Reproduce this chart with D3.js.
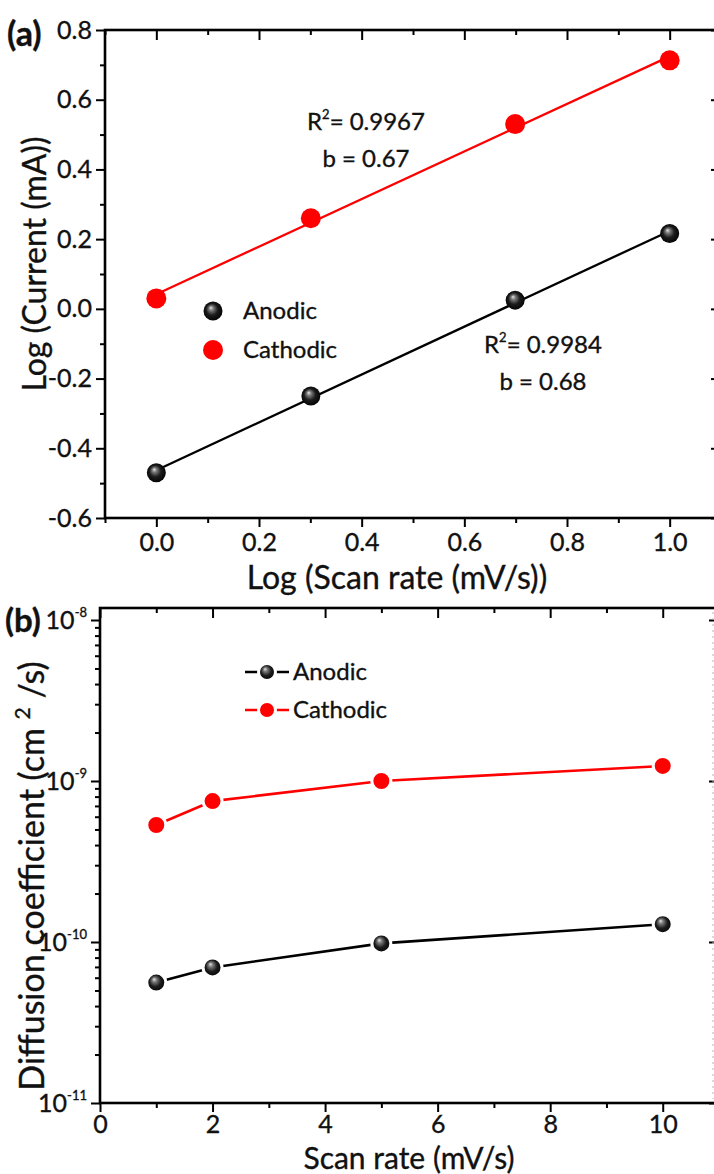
<!DOCTYPE html>
<html>
<head>
<meta charset="utf-8">
<script src="https://cdn.jsdelivr.net/npm/d3@7"></script>
<style>
  html, body { margin: 0; padding: 0; background: #fff; }
  svg { display: block; font-family: Lato, "Open Sans", sans-serif; }
  svg text { stroke: #111; stroke-width: 0.35px; }
</style>
</head>
<body>
<svg id="chart" width="714" height="1174"></svg>
<script>
// ---- (a) log(peak current) vs log(scan rate) ----
const logRate = [0, 0.301, 0.699, 1.0];
const logAnodic = [-0.47, -0.25, 0.025, 0.216];
const logCathodic = [0.03, 0.26, 0.53, 0.713];
const fitLabelsAnodic = ["0.9984", "0.68"];
const fitLabelsCathodic = ["0.9967", "0.67"];
const aYTicks = [-0.6, -0.4, -0.2, 0.0, 0.2, 0.4, 0.6, 0.8];
const aYMinor = [-0.5, -0.3, -0.1, 0.1, 0.3, 0.5, 0.7];
const aXTicks = [0.0, 0.2, 0.4, 0.6, 0.8, 1.0];
const aXMinor = [-0.1, 0.1, 0.3, 0.5, 0.7, 0.9, 1.1];

// ---- (b) diffusion coefficient vs scan rate ----
const scanRate = [1, 2, 5, 10];
const diffAnodic = [5.6e-11, 6.95e-11, 9.8e-11, 1.29e-10];
const diffCathodic = [5.33e-10, 7.5e-10, 1.0e-9, 1.24e-9];
const bXTicks = [0, 2, 4, 6, 8, 10];
const bXMinor = [1, 3, 5, 7, 9, 11];
const bYExponents = [-11, -10, -9, -8];

const seriesNames = ["Anodic", "Cathodic"];
const seriesColors = ["#000000", "#ff0000"];

const INK = "#111";
const TICK_FONT = 25;
const svg = d3.select("#chart");

// shaded sphere used for the anodic markers
const defs = svg.append("defs");
const grad = defs.append("radialGradient").attr("id", "ball")
  .attr("cx", "50%").attr("cy", "50%").attr("r", "55%")
  .attr("fx", "38%").attr("fy", "32%");
grad.append("stop").attr("offset", "0%").attr("stop-color", "#e6e6e6");
grad.append("stop").attr("offset", "22%").attr("stop-color", "#7a7a7a");
grad.append("stop").attr("offset", "55%").attr("stop-color", "#1c1c1c");
grad.append("stop").attr("offset", "100%").attr("stop-color", "#000");

const FRAME_W = 2.6, TICK_W = 2;

function styleAxis(g) {
  g.select(".domain").remove();
  g.selectAll(".tick line").attr("stroke", "#000").attr("stroke-width", TICK_W);
  g.attr("font-family", null).attr("font-size", null);
  g.selectAll("text").attr("fill", INK).style("font-size", TICK_FONT + "px");
}

function frame(x0, x1, y0, y1) {
  svg.append("rect").attr("x", x0).attr("y", y0)
    .attr("width", x1 - x0).attr("height", y1 - y0)
    .attr("fill", "none").attr("stroke", "#000").attr("stroke-width", FRAME_W);
}

function marker(g, cx, cy, i, r, gap) {
  const c = g.append("circle").attr("cx", cx).attr("cy", cy).attr("r", r)
    .attr("fill", i === 0 ? "url(#ball)" : seriesColors[1]);
  if (gap) c.attr("stroke", "#fff").attr("stroke-width", gap);
  return c;
}

// ================= Panel (a) =================
const A = { l: 105, r: 721, t: 30, b: 518 };
const ax = d3.scaleLinear().domain([-0.1, 1.1]).range([A.l, A.r]);
const ay = d3.scaleLinear().domain([-0.6, 0.8]).range([A.b, A.t]);
const fmt1 = d => d.toFixed(1);

svg.append("g").attr("transform", `translate(${A.l},0)`)
  .call(d3.axisLeft(ay).tickValues(aYTicks).tickSize(9).tickPadding(4).tickFormat(fmt1))
  .call(styleAxis);
svg.append("g").attr("transform", `translate(${A.l},0)`)
  .call(d3.axisLeft(ay).tickValues(aYMinor).tickSize(5).tickFormat(""))
  .call(styleAxis);
svg.append("g").attr("transform", `translate(0,${A.b})`)
  .call(d3.axisBottom(ax).tickValues(aXTicks).tickSize(9).tickPadding(6).tickFormat(fmt1))
  .call(styleAxis);
svg.append("g").attr("transform", `translate(0,${A.b})`)
  .call(d3.axisBottom(ax).tickValues(aXMinor).tickSize(5).tickFormat(""))
  .call(styleAxis);
svg.append("g").attr("transform", `translate(0,${A.t})`)
  .call(d3.axisTop(ax).tickValues(aXTicks).tickSize(-10).tickFormat(""))
  .call(styleAxis);
svg.append("g").attr("transform", `translate(0,${A.t})`)
  .call(d3.axisTop(ax).tickValues(aXMinor).tickSize(-5).tickFormat(""))
  .call(styleAxis);
svg.append("g").attr("transform", `translate(${A.r},0)`)
  .call(d3.axisRight(ay).tickValues(aYTicks).tickSize(-10).tickFormat(""))
  .call(styleAxis);
svg.append("g").attr("transform", `translate(${A.r},0)`)
  .call(d3.axisRight(ay).tickValues(aYMinor).tickSize(-5).tickFormat(""))
  .call(styleAxis);
frame(A.l, A.r, A.t, A.b);

// least-squares lines through each series
function linFit(xs, ys) {
  const mx = d3.mean(xs), my = d3.mean(ys);
  const sxy = d3.sum(xs, (x, i) => (x - mx) * (ys[i] - my));
  const sxx = d3.sum(xs, x => (x - mx) ** 2);
  const k = sxy / sxx;
  return x => my + k * (x - mx);
}
const aSeries = [logAnodic, logCathodic];
const aPlot = svg.append("g");
aSeries.forEach((ys, i) => {
  const f = linFit(logRate, ys);
  const x0 = d3.min(logRate), x1 = d3.max(logRate);
  aPlot.append("line")
    .attr("x1", ax(x0)).attr("y1", ay(f(x0)))
    .attr("x2", ax(x1)).attr("y2", ay(f(x1)))
    .attr("stroke", seriesColors[i]).attr("stroke-width", 2.3);
});
aSeries.forEach((ys, i) => {
  logRate.forEach((x, j) => marker(aPlot, ax(x), ay(ys[j]), i, i === 0 ? 9.5 : 10));
});

// fit annotations
function fitNote(cx, yBase, labels) {
  const t1 = svg.append("text").attr("x", cx).attr("y", yBase)
    .attr("text-anchor", "middle").attr("font-size", 24).attr("fill", INK);
  t1.append("tspan").text("R");
  t1.append("tspan").attr("dy", -11).attr("font-size", 13).text("2");
  t1.append("tspan").attr("dy", 11).text("= " + labels[0]);
  svg.append("text").attr("x", cx).attr("y", yBase + 37)
    .attr("text-anchor", "middle").attr("font-size", 24).attr("fill", INK)
    .text("b = " + labels[1]);
}
fitNote(366, 130, fitLabelsCathodic);
fitNote(543, 353, fitLabelsAnodic);

// legend (a)
seriesNames.forEach((name, i) => {
  const y = 311 + i * 39;
  marker(svg, 213, y, i, i === 0 ? 9.5 : 10);
  svg.append("text").attr("x", 243).attr("y", y).attr("dy", "0.35em")
    .attr("font-size", 24).attr("fill", INK).text(name);
});

// axis titles (a)
svg.append("text").attr("transform", "translate(46,264) rotate(-90)")
  .attr("text-anchor", "middle").attr("font-size", 32).attr("fill", INK)
  .text("Log (Current (mA))");
svg.append("text").attr("x", 397).attr("y", 589)
  .attr("text-anchor", "middle").attr("font-size", 32).attr("fill", INK)
  .text("Log (Scan rate (mV/s))");
svg.append("text").attr("x", 7).attr("y", 46)
  .attr("font-size", 34).attr("font-weight", "bold").attr("fill", INK).text("(a)");

// ================= Panel (b) =================
const B = { l: 100, r: 719, t: 608, b: 1103 };
const bx = d3.scaleLinear().domain([0, 11]).range([B.l, B.r]);
const by = d3.scaleLog().domain([1e-11, 1e-8]).range([B.b, 620]);
const bYMajor = bYExponents.map(e => Math.pow(10, e));
const bYMinor = bYExponents.slice(0, -1)
  .flatMap(e => [2, 3, 4, 5, 6, 7, 8, 9].map(m => m * Math.pow(10, e)));

svg.append("g").attr("transform", `translate(${B.l},0)`)
  .call(d3.axisLeft(by).tickValues(bYMajor).tickSize(9).tickPadding(4).tickFormat(""))
  .call(styleAxis)
  .call(g => g.selectAll(".tick text").each(function (d) {
    const t = d3.select(this);
    t.append("tspan").text("10");
    t.append("tspan").attr("dy", -12).style("font-size", "13px")
      .text(String(Math.round(Math.log10(d))));
  }));
svg.append("g").attr("transform", `translate(${B.l},0)`)
  .call(d3.axisLeft(by).tickValues(bYMinor).tickSize(5).tickFormat(""))
  .call(styleAxis);
svg.append("g").attr("transform", `translate(0,${B.b})`)
  .call(d3.axisBottom(bx).tickValues(bXTicks).tickSize(9).tickPadding(3).tickFormat(d3.format("d")))
  .call(styleAxis);
svg.append("g").attr("transform", `translate(0,${B.b})`)
  .call(d3.axisBottom(bx).tickValues(bXMinor).tickSize(5).tickFormat(""))
  .call(styleAxis);
svg.append("g").attr("transform", `translate(0,${B.t})`)
  .call(d3.axisTop(bx).tickValues(bXTicks).tickSize(-10).tickFormat(""))
  .call(styleAxis);
svg.append("g").attr("transform", `translate(0,${B.t})`)
  .call(d3.axisTop(bx).tickValues(bXMinor).tickSize(-5).tickFormat(""))
  .call(styleAxis);
svg.append("g").attr("transform", `translate(${B.r},0)`)
  .call(d3.axisRight(by).tickValues(bYMajor).tickSize(-10).tickFormat(""))
  .call(styleAxis);
svg.append("g").attr("transform", `translate(${B.r},0)`)
  .call(d3.axisRight(by).tickValues(bYMinor).tickSize(-5).tickFormat(""))
  .call(styleAxis);
frame(B.l, B.r, B.t, B.b);
svg.append("line").attr("x1", 713).attr("x2", 713).attr("y1", B.t + 4).attr("y2", B.b - 4)
  .attr("stroke", "#b5b5b5").attr("stroke-width", 1).attr("stroke-dasharray", "2,4");

const bSeries = [diffAnodic, diffCathodic];
const bPlot = svg.append("g");
const bLine = d3.line().x((d, j) => bx(scanRate[j])).y(d => by(d));
bSeries.forEach((ys, i) => {
  bPlot.append("path").attr("d", bLine(ys)).attr("fill", "none")
    .attr("stroke", seriesColors[i]).attr("stroke-width", 2.6);
});
bSeries.forEach((ys, i) => {
  scanRate.forEach((x, j) => marker(bPlot, bx(x), by(ys[j]), i, 9.5, 3));
});

// legend (b)
seriesNames.forEach((name, i) => {
  const y = 672 + i * 38;
  svg.append("line").attr("x1", 245).attr("x2", 289).attr("y1", y).attr("y2", y)
    .attr("stroke", seriesColors[i]).attr("stroke-width", 2.6);
  marker(svg, 267, y, i, 8.5, 3);
  svg.append("text").attr("x", 293).attr("y", y).attr("dy", "0.35em")
    .attr("font-size", 24).attr("fill", INK).text(name);
});

// axis titles (b)
const yTitleB = svg.append("text").attr("transform", "translate(44,876) rotate(-90)")
  .attr("text-anchor", "middle").attr("font-size", 34).attr("fill", INK);
yTitleB.append("tspan").text("Diffusion coefficient (cm ");
yTitleB.append("tspan").attr("dy", -14).attr("font-size", 21).text("2");
yTitleB.append("tspan").attr("dy", 14).text(" /s)");
svg.append("text").attr("x", 409).attr("y", 1169)
  .attr("text-anchor", "middle").attr("font-size", 30).attr("fill", INK)
  .text("Scan rate (mV/s)");
svg.append("text").attr("x", 5).attr("y", 632)
  .attr("font-size", 33).attr("font-weight", "bold").attr("fill", INK).text("(b)");
</script>
</body>
</html>
